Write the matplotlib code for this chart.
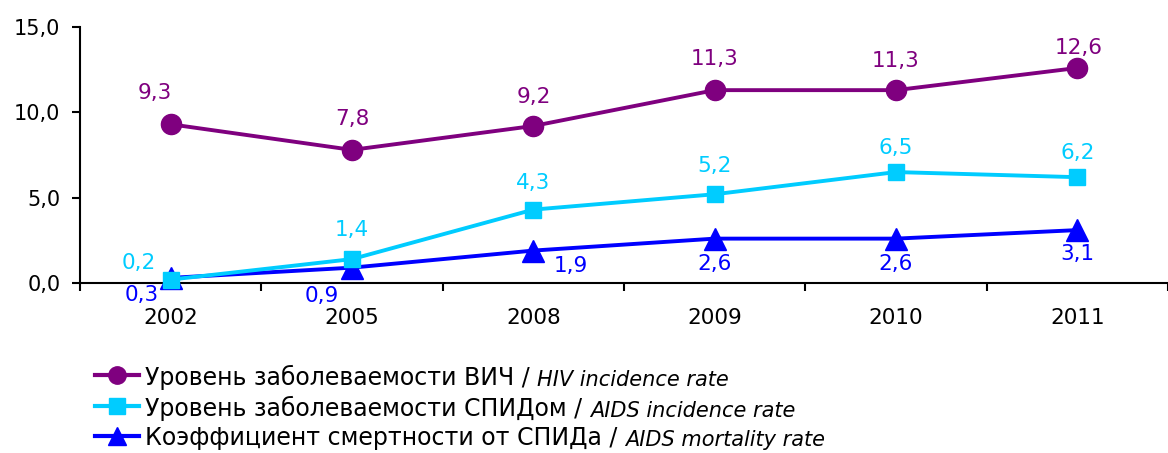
import matplotlib
matplotlib.use("Agg")
import matplotlib.pyplot as plt
from matplotlib.lines import Line2D
import numpy as np

years = ["2002", "2005", "2008", "2009", "2010", "2011"]
hiv = [9.3, 7.8, 9.2, 11.3, 11.3, 12.6]
aids = [0.2, 1.4, 4.3, 5.2, 6.5, 6.2]
mort = [0.3, 0.9, 1.9, 2.6, 2.6, 3.1]
yticks = [0, 5, 10, 15]

leg_ru = ["Уровень заболеваемости ВИЧ / ",
          "Уровень заболеваемости СПИДом / ",
          "Коэффициент смертности от СПИДа / "]
leg_en = ["HIV incidence rate", "AIDS incidence rate", "AIDS mortality rate"]

C_HIV = "#7F007F"
C_AIDS = "#00CCFF"
C_MORT = "#0000FF"

plt.rcParams["font.family"] = ["DejaVu Sans"]

W, H = 1168, 453
fig = plt.figure(figsize=(W / 100, H / 100), dpi=100)
x0, x1 = 80, 1168
y0, y1 = 283, 27
ax = fig.add_axes([x0 / W, 1 - y0 / H, (x1 - x0) / W, (y0 - y1) / H])
ax.patch.set_alpha(0)

x = np.arange(len(years))
step = 183.0
ax.set_xlim(-0.5, -0.5 + (x1 - x0) / step)
ax.set_ylim(0, 15)

ax.plot(x, mort, color=C_MORT, lw=2.8, marker="^", ms=16, zorder=3, clip_on=False)
ax.plot(x, aids, color=C_AIDS, lw=2.8, marker="s", ms=12, zorder=4, clip_on=False)
ax.plot(x, hiv, color=C_HIV, lw=2.8, marker="o", ms=14.5, zorder=5, clip_on=False)

fs = 15.5
hiv_off = [(-16, 31), (0, 31), (0, 29), (0, 31), (0, 29), (1, 20)]
aids_off = [(-32, 17), (0, 29), (0, 27), (0, 28), (0, 24), (0, 24)]
mort_off = [(-29, -17), (-30, -28), (37, -15), (0, -25), (0, -25), (0, -24)]


def fmt(v):
    return f"{v:.1f}".replace(".", ",")


for series, offs, col in [(hiv, hiv_off, C_HIV), (aids, aids_off, C_AIDS), (mort, mort_off, C_MORT)]:
    for xi, v, (dx, dy) in zip(x, series, offs):
        ax.annotate(fmt(v), (xi, v), xytext=(dx * 0.72, dy * 0.72), textcoords="offset points",
                    ha="center", va="center", color=col, fontsize=fs, zorder=6)

ax.set_yticks(yticks)
ax.set_yticklabels([fmt(v) for v in yticks], fontsize=15)
ax.set_xticks(x)
ax.set_xticklabels(years, fontsize=fs)
ax.set_xticks(np.arange(len(years) + 1) - 0.5, minor=True)
ax.tick_params(axis="x", which="major", length=0, pad=18)
ax.tick_params(axis="x", which="minor", length=6, width=1.5, direction="out")
ax.tick_params(axis="y", length=6, width=1.5, direction="out", pad=8)
for s in ["top", "right"]:
    ax.spines[s].set_visible(False)
ax.spines["left"].set_linewidth(1.5)
ax.spines["bottom"].set_linewidth(1.5)

# legend drawn manually
rows_y = [375, 406, 436]
handles = [(C_HIV, "o", 12.5), (C_AIDS, "s", 11), (C_MORT, "^", 13)]
for yy, (col, mk, ms), ru, en in zip(rows_y, handles, leg_ru, leg_en):
    fy = 1 - yy / H
    fig.add_artist(Line2D([95 / W, 139 / W], [fy, fy], color=col, lw=3, transform=fig.transFigure))
    fig.add_artist(Line2D([117 / W], [fy], color=col, marker=mk, ms=ms, lw=0, transform=fig.transFigure))
    t = fig.text(145 / W, fy, ru, fontsize=17, va="center_baseline", ha="left")
    ax.annotate(en, xy=(1, 0), xycoords=t, fontsize=15, style="italic", va="bottom", ha="left",
                annotation_clip=False)

fig.savefig("out.png", dpi=100)
